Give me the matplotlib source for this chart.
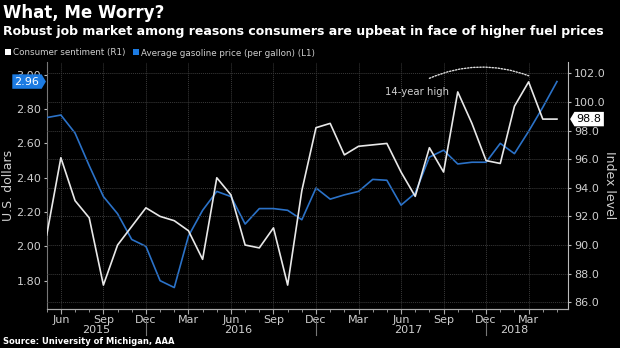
import numpy as np
import pandas as pd
import matplotlib
matplotlib.use("Agg")
import matplotlib.pyplot as plt
from matplotlib.path import Path
from matplotlib.patches import Rectangle
from matplotlib.lines import Line2D
import matplotlib.transforms as mtransforms

# =========================
# DATA
# =========================
months = pd.date_range("2015-05-01", "2018-05-01", freq="MS")

# University of Michigan consumer sentiment (right axis)
sentiment = [90.7, 96.1, 93.1, 91.9, 87.2, 90.0, 91.3, 92.6,
             92.0, 91.7, 91.0, 89.0, 94.7, 93.5, 90.0, 89.8, 91.2, 87.2, 93.8, 98.2,
             98.5, 96.3, 96.9, 97.0, 97.1, 95.1, 93.4, 96.8, 95.1, 100.7, 98.5, 95.9,
             95.7, 99.7, 101.4, 98.8, 98.8]

# average gasoline price, $ per gallon (left axis)
gasoline = [2.75, 2.765, 2.66, 2.47, 2.29, 2.19, 2.04, 2.00,
            1.80, 1.76, 2.06, 2.21, 2.32, 2.29, 2.13, 2.22, 2.22, 2.21, 2.155, 2.34,
            2.275, 2.30, 2.32, 2.39, 2.385, 2.24, 2.31, 2.52, 2.56, 2.48, 2.49, 2.49,
            2.60, 2.54, 2.67, 2.81, 2.96]

left_ticks = [1.80, 2.00, 2.20, 2.40, 2.60, 2.80, 3.00]
right_ticks = [86.0, 88.0, 90.0, 92.0, 94.0, 96.0, 98.0, 100.0, 102.0]

title = "What, Me Worry?"
subtitle = "Robust job market among reasons consumers are upbeat in face of higher fuel prices"
legend_labels = ["Consumer sentiment (R1)", "Average gasoline price (per gallon) (L1)"]
source = "Source: University of Michigan, AAA"

# =========================
# STYLE
# =========================
W, H = 620, 348
BLUE = "#2b72c8"
TAG_BLUE = "#1c7be2"
WHITE = "#e8e8e8"
TXT = "#cfcfcf"


def fx(px):
    return px / W


def fy(py):
    return 1 - py / H


def tag_right(x0, y0, width, height, mutation_size):
    pad = 0.2 * mutation_size
    x0, y0 = x0 - pad, y0 - pad
    x1, y1 = x0 + width + 2 * pad, y0 + height + 2 * pad
    tip = (y1 - y0) * 0.3
    return Path([(x0, y0), (x1, y0), (x1 + tip, (y0 + y1) / 2), (x1, y1), (x0, y1), (x0, y0)], closed=True)


def tag_left(x0, y0, width, height, mutation_size):
    pad = 0.2 * mutation_size
    x0, y0 = x0 - pad, y0 - pad
    x1, y1 = x0 + width + 2 * pad, y0 + height + 2 * pad
    tip = (y1 - y0) * 0.3
    return Path([(x0, y0), (x1, y0), (x1, y1), (x0, y1), (x0 - tip, (y0 + y1) / 2), (x0, y0)], closed=True)


plt.rcParams["font.family"] = ["DejaVu Sans"]

fig = plt.figure(figsize=(6.2, 3.48), dpi=100, facecolor="black")
ax = fig.add_axes([fx(46.7), fy(309), fx(568.3) - fx(46.7), fy(62) - fy(309)])
ax.set_facecolor("black")
ax2 = ax.twinx()

x = np.arange(len(months))

# =========================
# LINES
# =========================
ax.plot(x, gasoline, color=BLUE, lw=1.2, zorder=3)
ax2.plot(x, sentiment, color=WHITE, lw=1.2, zorder=3)

ax.set_xlim(0, 36.8)
ax.set_ylim(1.635, 3.074)
ax2.set_ylim(85.53, 102.79)

# x ticks: every month minor, quarter months labelled
quarter = [i for i, m in enumerate(months) if m.month in (3, 6, 9, 12)]
ax.set_xticks(quarter)
ax.set_xticklabels([months[i].strftime("%b") for i in quarter])
ax.set_xticks(x, minor=True)
ax.tick_params(axis="x", which="major", length=3.5, color="#aaaaaa", labelcolor=TXT, labelsize=8, pad=1)
ax.tick_params(axis="x", which="minor", length=2, color="#aaaaaa")

ax.set_yticks(left_ticks)
ax.set_yticklabels([f"{v:.2f}" for v in left_ticks])
ax.tick_params(axis="y", length=2.5, color="#bbbbbb", labelcolor=TXT, labelsize=8, pad=1.5)
ax2.set_yticks(right_ticks)
ax2.set_yticklabels([f"{v:.1f}" for v in right_ticks])
ax2.tick_params(axis="y", length=2.5, color="#bbbbbb", labelcolor=TXT, labelsize=8, pad=1.5)

# grid
ax.xaxis.grid(True, color="#3a3a3a", lw=0.7, ls=(0, (1, 1)))
ax2.yaxis.grid(True, color="#3a3a3a", lw=0.7, ls=(0, (1, 1)))
ax2.set_axisbelow(True)

for a in (ax, ax2):
    a.spines["top"].set_visible(False)
    a.spines["bottom"].set_color("#aaaaaa")
ax.spines["left"].set_color("#777777")
ax2.spines["left"].set_visible(False)
ax.spines["right"].set_visible(False)
ax2.spines["right"].set_color("#bbbbbb")

# year labels and separators
xt = mtransforms.blended_transform_factory(ax.transData, ax.transAxes)
years = sorted(set(months.year))
for yr in years:
    idx = [i for i, m in enumerate(months) if m.year == yr]
    lo, hi = idx[0], idx[-1]
    if yr == years[-1]:
        hi = hi - 2
    ax.text((lo + hi) / 2, -0.083, str(yr), transform=xt, ha="center", va="center",
            color=TXT, fontsize=8)
    if yr != years[-1]:
        ax.add_line(Line2D([idx[-1], idx[-1]], [-0.045, -0.105], transform=xt,
                           color="#777777", lw=0.8, clip_on=False))

# last value tags
ly = mtransforms.blended_transform_factory(ax.transAxes, ax.transData)
ax.text(-0.014, gasoline[-1], f"{gasoline[-1]:.2f}", transform=ly, ha="right", va="center",
        color="white", fontsize=8, zorder=10,
        bbox=dict(boxstyle=tag_right, fc=TAG_BLUE, ec="none"), clip_on=False)
ry = mtransforms.blended_transform_factory(ax2.transAxes, ax2.transData)
ax2.text(1.016, sentiment[-1], f"{sentiment[-1]:.1f}", transform=ry, ha="left", va="center",
         color="black", fontsize=8, zorder=10,
         bbox=dict(boxstyle=tag_left, fc="white", ec="none"), clip_on=False)

# 14-year high annotation
peak = int(np.argmax(sentiment))
ax2.annotate("", xy=(peak, sentiment[peak] + 0.43), xytext=(peak - 7, sentiment[peak] + 0.25),
             arrowprops=dict(arrowstyle="-", color="#dddddd", lw=1.0, ls=(0, (1, 1.2)),
                             connectionstyle="arc3,rad=-0.2", shrinkA=0, shrinkB=0))
ax2.text(28.35, 100.69, "14-year high", ha="right", va="center", color=TXT, fontsize=7.3)

# axis titles
fig.text(fx(9), fy(185.5), "U.S. dollars", rotation=90, ha="center", va="center", color=TXT, fontsize=9)
fig.text(fx(610), fy(185.5), "Index level", rotation=270, ha="center", va="center", color=TXT, fontsize=9)

# =========================
# HEADER / LEGEND / SOURCE
# =========================
fig.text(fx(3), fy(18.5), title, color="white", fontsize=12, fontweight="bold", va="baseline")
fig.text(fx(3), fy(34.5), subtitle, color="white", fontsize=9, fontweight="bold", va="baseline")

fig.patches.append(Rectangle((fx(5), fy(55)), fx(6), fx(0) + 6 / H, transform=fig.transFigure,
                             fc="white", ec="none"))
fig.text(fx(13), fy(55.5), legend_labels[0], color=TXT, fontsize=6.3, va="baseline")
fig.patches.append(Rectangle((fx(133), fy(55)), fx(6), 6 / H, transform=fig.transFigure,
                             fc=TAG_BLUE, ec="none"))
fig.text(fx(141), fy(55.5), legend_labels[1], color=TXT, fontsize=6.3, va="baseline")

fig.text(fx(3), fy(344), source, color="white", fontsize=6, fontweight="bold", va="baseline")

fig.savefig("out.png", dpi=100, facecolor="black")
